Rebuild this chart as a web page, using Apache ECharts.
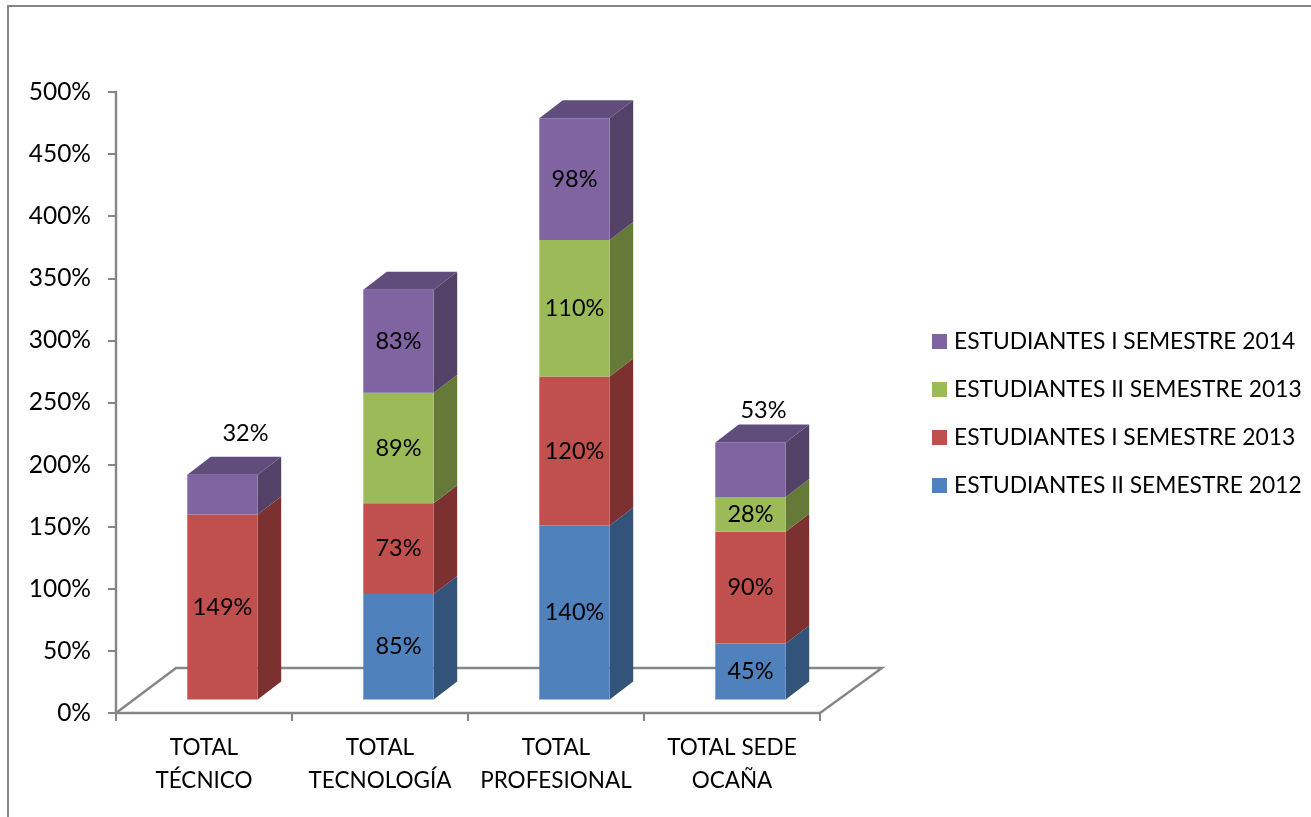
<!DOCTYPE html>
<html><head><meta charset="utf-8">
<style>html,body{margin:0;padding:0;background:#fff}#c{width:1311px;height:817px}</style>
<script src="https://cdn.jsdelivr.net/npm/echarts@6/dist/echarts.min.js"></script>
</head><body><div id="c"></div>
<script>
const categories = ['TOTAL\nTÉCNICO','TOTAL\nTECNOLOGÍA','TOTAL\nPROFESIONAL','TOTAL SEDE\nOCAÑA'];
const names = ['ESTUDIANTES II SEMESTRE 2012','ESTUDIANTES I SEMESTRE 2013','ESTUDIANTES II SEMESTRE 2013','ESTUDIANTES I SEMESTRE 2014'];
const sem2012b = [null,85,140,45];
const sem2013a = [149,73,120,90];
const sem2013b = [null,89,110,28];
// drawn heights of the 2014 segments; the printed label on the last one reads 53%
const sem2014a = [32,83,98,44];
const printed2014a = [32,83,98,53];
const yTicksMax = 500;

const front = ['#4F81BD','#C0504D','#9BBB59','#8064A2'];
const side  = ['#32537A','#7C3130','#657A38','#534168'];
const top3d = ['#3E6796','#96403D','#7C9647','#614D7C'];
const allValues = [sem2012b,sem2013a,sem2013b,sem2014a];
const printed = [sem2012b,sem2013a,sem2013b,printed2014a];
const DX = 23.5, DY = 18, BAR_FRAC = 0.40, SHIFT_X = 18.5, SHIFT_Y = 13.5;
const FONT = 'Lato';
const FS_LABEL = 23.5, FS_AXIS_Y = 24.5, FS_AXIS_X = 22.5, FS_LEGEND = 22.8;
// two labels sit outside their segment in the reference: [dx, dy]
const labelNudges = {'3_0':[23,-61],'3_3':[13,-59]};

function barSeries(s){
  return {
    type:'custom', name:names[s], coordinateSystem:'cartesian2d',
    itemStyle:{color:front[s]}, z:3+s,
    encode:{x:0,y:2}, clip:false,
    data:categories.map((c,i)=>{
      let base=0; for(let k=0;k<s;k++) base+=allValues[k][i]||0;
      return [i,base,base+(allValues[s][i]||0),allValues[s][i]==null?0:1];
    }),
    renderItem(params,api){
      if(!api.value(3)) return {type:'group',children:[]};
      const i=api.value(0), b=api.value(1), t=api.value(2);
      const w=api.size([1,0])[0]*BAR_FRAC;
      const c0=api.coord([i,b]), c1=api.coord([i,t]);
      const x0=c0[0]+SHIFT_X-w/2, x1=x0+w, y0=c0[1]-SHIFT_Y, y1=c1[1]-SHIFT_Y;
      const nudge=labelNudges[s+'_'+i]||[0,0];
      const kids=[
        {type:'polygon',shape:{points:[[x1,y0],[x1+DX,y0-DY],[x1+DX,y1-DY],[x1,y1]]},style:{fill:side[s]}},
        {type:'rect',shape:{x:x0,y:y1,width:w,height:y0-y1},style:{fill:front[s]}}
      ];
      const isTop=(s===3)||allValues.slice(s+1).every(a=>!a[i]);
      if(isTop) kids.push({type:'polygon',shape:{points:[[x0,y1],[x0+DX,y1-DY],[x1+DX,y1-DY],[x1,y1]]},style:{fill:top3d[s]}});
      kids.push({type:'text',z2:50,style:{
        text:printed[s][i]+'%',x:(x0+x1)/2+nudge[0],y:(y0+y1)/2+nudge[1],
        align:'center',verticalAlign:'middle',fill:'#000',font:FS_LABEL+'px '+FONT}});
      return {type:'group',children:kids};
    }
  };
}

const floorSeries = {
  type:'custom', silent:true, z:1, clip:false, legendHoverLink:false,
  data:[[0,0]], encode:{x:0,y:1},
  renderItem(params,api){
    const left=api.coord([0,0]);
    const band=api.size([1,0])[0];
    const x0=left[0]-band/2, x1=x0+band*categories.length, y=left[1];
    return {type:'polyline',shape:{points:[[x0,y],[x0+60,y-45],[x1+62,y-45],[x1,y]]},
      style:{stroke:'#868686',lineWidth:2.4,fill:null}};
  }
};

const chart=echarts.init(document.getElementById('c'),null,{renderer:'canvas'});
chart.setOption({
  animation:false,
  backgroundColor:'#fff',
  textStyle:{fontFamily:FONT},
  grid:{left:116,right:491,top:92,bottom:104},
  legend:{
    orient:'vertical',left:927,top:325,itemWidth:15,itemHeight:15,itemGap:25,
    icon:'rect',selectedMode:false,
    data:names.slice().reverse(),
    textStyle:{fontFamily:FONT,fontSize:FS_LEGEND,color:'#000',padding:[0,0,0,2]}
  },
  xAxis:{type:'category',data:categories,
    axisLine:{lineStyle:{color:'#868686',width:2.4}},
    axisTick:{show:true,length:8,alignWithLabel:false,lineStyle:{color:'#868686',width:2}},
    axisLabel:{color:'#000',fontFamily:FONT,fontSize:FS_AXIS_X,lineHeight:33,margin:18,interval:0},
    splitLine:{show:false}},
  yAxis:{type:'value',min:0,max:yTicksMax,interval:50,
    axisLine:{show:true,lineStyle:{color:'#868686',width:2.4}},
    axisTick:{show:true,length:8,lineStyle:{color:'#868686',width:2}},
    axisLabel:{color:'#000',fontFamily:FONT,fontSize:FS_AXIS_Y,margin:25,formatter:'{value}%'},
    splitLine:{show:false}},
  graphic:[{type:'polyline',silent:true,shape:{points:[[8,817],[8,6],[1311,6]]},
    style:{stroke:'#868686',lineWidth:2,fill:null}}],
  series:[floorSeries,barSeries(0),barSeries(1),barSeries(2),barSeries(3)]
});
</script></body></html>
